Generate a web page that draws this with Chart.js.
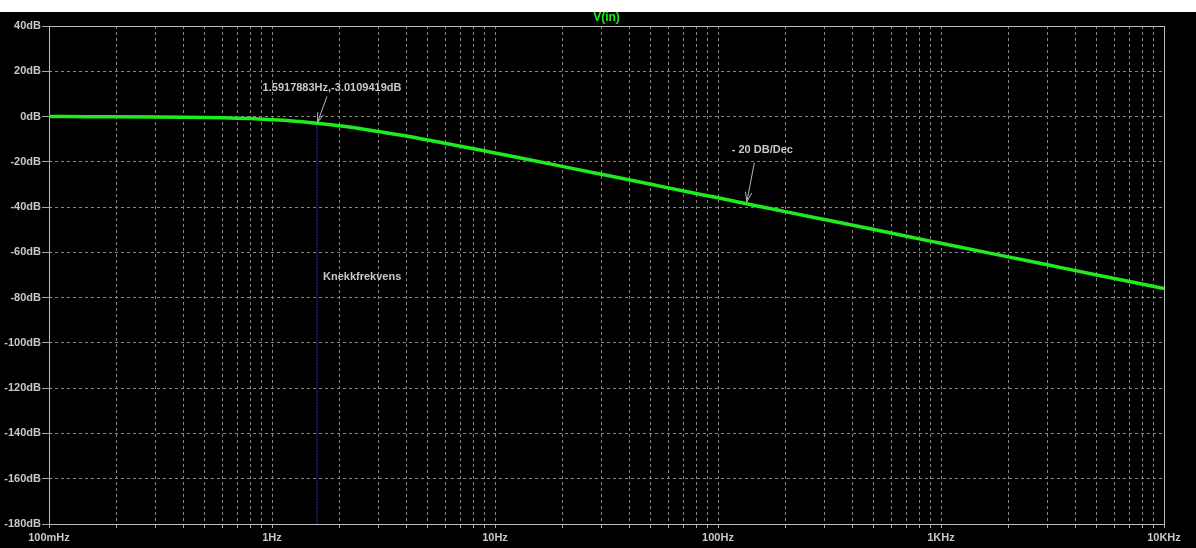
<!DOCTYPE html>
<html><head><meta charset="utf-8">
<script src="https://cdn.jsdelivr.net/npm/chart.js@4/dist/chart.umd.min.js"></script>
<style>
html,body{margin:0;padding:0;background:#fff;width:1196px;height:548px;overflow:hidden}
#wrap{position:absolute;left:0;top:12px;width:1196px;height:536px;background:#000}
canvas{display:block}
</style></head><body>
<div id="wrap"><canvas id="c" width="1196" height="536"></canvas></div>
<script>
// Frequency response of V(in), first-order low-pass
const frequencies = [0.1, 0.15, 0.2, 0.3, 0.4, 0.5, 0.6, 0.7, 0.8, 1, 1.2, 1.5917883, 2, 2.5, 3, 4, 5, 7, 10, 15, 20, 30, 50, 70, 100, 150, 200, 300, 500, 700, 1000, 2000, 3000, 5000, 7000, 10000];
const magnitudeDb = [-0.02, -0.04, -0.07, -0.15, -0.26, -0.4, -0.54, -0.7, -0.9, -1.4, -1.9, -3.0109419, -4.1, -5.4, -6.6, -8.6, -10.4, -13.1, -16.1, -19.5, -22.0, -25.5, -29.9, -32.9, -35.9, -39.5, -42.0, -45.5, -49.9, -52.9, -56.0, -62.0, -65.5, -70.0, -72.9, -76.0];

// Axis ticks
const decadeValues = [0.1, 1, 10, 100, 1000, 10000];
const decadeLabels = ['100mHz', '1Hz', '10Hz', '100Hz', '1KHz', '10KHz'];
const minorSteps = [2, 3, 4, 5, 6, 7, 8, 9];
const dbTicks = [40, 20, 0, -20, -40, -60, -80, -100, -120, -140, -160, -180];

// Cursor and notes
const cursorFreq = 1.5917883;
const cursorDb = -3.0109419;
const cursorText = '1.5917883Hz,-3.0109419dB';
const slopeText = '- 20 DB/Dec';
const slopeFreq = 134;
const slopeDb = -38.5;
const cornerText = 'Knekkfrekvens';
const traceName = 'V(in)';

const xTickValues = [];
decadeValues.forEach((d, i) => {
  xTickValues.push(d);
  if (i < decadeValues.length - 1) minorSteps.forEach(m => xTickValues.push(+(d * m).toPrecision(6)));
});

function labelFor(v) {
  const i = decadeValues.findIndex(d => Math.abs(d - v) / d < 1e-6);
  return i >= 0 ? decadeLabels[i] : '';
}

const FONT = 'bold 11px "Liberation Sans", Arial, sans-serif';
const TEXT = '#c8c8c8';
const GREEN = '#1fec1f';

function arrow(ctx, x1, y1, x2, y2) {
  const a = Math.atan2(y2 - y1, x2 - x1);
  const L = 10, w = 0.33;
  ctx.beginPath();
  ctx.moveTo(x1, y1); ctx.lineTo(x2, y2);
  ctx.moveTo(x2 - L * Math.cos(a - w), y2 - L * Math.sin(a - w));
  ctx.lineTo(x2, y2);
  ctx.lineTo(x2 - L * Math.cos(a + w), y2 - L * Math.sin(a + w));
  ctx.stroke();
}

const overlay = {
  id: 'overlay',
  beforeDatasetsDraw(chart) {
    const { ctx, chartArea: ca, scales: { x, y } } = chart;
    ctx.save();
    // solid frame around the plot
    ctx.strokeStyle = '#bdbdbd';
    ctx.lineWidth = 1;
    ctx.strokeRect(Math.round(ca.left) + 0.5, Math.round(ca.top) + 0.5, Math.round(ca.right - ca.left), Math.round(ca.bottom - ca.top));
    // cursor line
    const cx = Math.round(x.getPixelForValue(cursorFreq));
    ctx.strokeStyle = '#1c1c88';
    ctx.lineWidth = 1.6;
    ctx.setLineDash([2, 1]);
    ctx.beginPath();
    ctx.moveTo(cx, y.getPixelForValue(cursorDb));
    ctx.lineTo(cx, ca.bottom);
    ctx.stroke();
    ctx.restore();
  },
  afterDatasetsDraw(chart) {
    const { ctx, chartArea: ca, scales: { x, y } } = chart;
    ctx.save();
    ctx.font = FONT;
    ctx.fillStyle = TEXT;
    ctx.strokeStyle = '#b8b8b8';
    ctx.lineWidth = 1;
    ctx.textBaseline = 'middle';

    // trace name
    ctx.fillStyle = GREEN;
    ctx.textAlign = 'center';
    ctx.font = 'bold 12px "Liberation Sans", Arial, sans-serif';
    ctx.fillText(traceName, (ca.left + ca.right) / 2, 6);
    ctx.font = FONT;
    ctx.fillStyle = TEXT;

    // cursor readout
    const px = x.getPixelForValue(cursorFreq), py = y.getPixelForValue(cursorDb);
    ctx.fillText(cursorText, px + 15, py - 35);
    arrow(ctx, px + 10, py - 27, px + 0.5, py - 1);

    // slope note
    const sx = x.getPixelForValue(slopeFreq), sy = y.getPixelForValue(slopeDb);
    ctx.fillText(slopeText, sx + 16, sy - 54);
    arrow(ctx, sx + 8, sy - 41, sx + 0.5, sy - 2);

    // corner frequency note
    ctx.textAlign = 'left';
    ctx.fillText(cornerText, px + 6, y.getPixelForValue(-70.8));
    ctx.restore();
  }
};

new Chart(document.getElementById('c'), {
  type: 'line',
  data: {
    datasets: [{
      label: traceName,
      data: frequencies.map((f, i) => ({ x: f, y: magnitudeDb[i] })),
      borderColor: GREEN,
      borderWidth: 3.5,
      pointRadius: 0,
      cubicInterpolationMode: 'monotone',
      fill: false
    }]
  },
  options: {
    responsive: false,
    animation: false,
    events: [],
    layout: { padding: { top: 14, right: 32, left: 0, bottom: 0 } },
    plugins: { legend: { display: false }, tooltip: { enabled: false }, title: { display: false } },
    scales: {
      x: {
        type: 'logarithmic',
        min: 0.1,
        max: 10000,
        afterBuildTicks(s) { s.ticks = xTickValues.map(v => ({ value: v, major: labelFor(v) !== '' })); },
        afterFit(s) { s.height = 24; },
        ticks: {
          autoSkip: false,
          maxRotation: 0,
          minRotation: 0,
          padding: 3,
          color: TEXT,
          font: { family: '"Liberation Sans", Arial, sans-serif', size: 11, weight: 'bold' },
          callback: (v) => labelFor(v)
        },
        grid: {
          color: '#858585',
          tickColor: '#a8a8a8',
          tickLength: 4,
          tickBorderDash: [1, 0],
          lineWidth: 1
        },
        border: { display: false, dash: [3, 3] }
      },
      y: {
        min: -180,
        max: 40,
        afterBuildTicks(s) { s.ticks = dbTicks.map(v => ({ value: v })); },
        afterFit(s) { s.width = 49; },
        ticks: {
          padding: 1,
          color: TEXT,
          font: { family: '"Liberation Sans", Arial, sans-serif', size: 11, weight: 'bold' },
          callback: (v) => v + 'dB'
        },
        grid: {
          color: '#858585',
          tickColor: '#a8a8a8',
          tickLength: 7,
          tickBorderDash: [1, 0],
          lineWidth: 1
        },
        border: { display: false, dash: [3, 3] }
      }
    }
  },
  plugins: [overlay]
});
</script>
</body></html>
